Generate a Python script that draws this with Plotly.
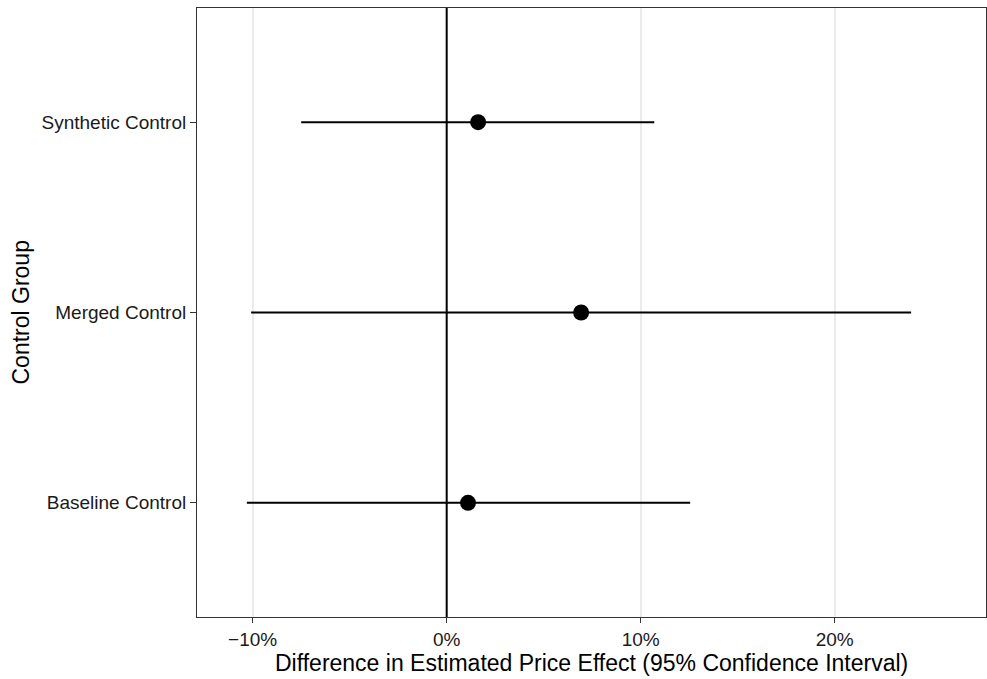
import plotly.graph_objects as go

groups = ["Baseline Control", "Merged Control", "Synthetic Control"]
estimate = [1.10, 6.93, 1.62]
ci_low = [-10.3, -10.08, -7.5]
ci_high = [12.55, 23.94, 10.7]

tick_vals = [-10, 0, 10, 20]
tick_text = ["\u221210%", "0%", "10%", "20%"]

err_plus = [h - e for h, e in zip(ci_high, estimate)]
err_minus = [e - l for e, l in zip(estimate, ci_low)]

fig = go.Figure()
fig.add_trace(go.Scatter(
    x=estimate, y=groups, mode="markers",
    marker=dict(color="black", size=16),
    error_x=dict(type="data", symmetric=False, array=err_plus, arrayminus=err_minus,
                 color="black", thickness=2, width=0),
    showlegend=False,
))

fig.update_layout(
    width=987, height=679,
    margin=dict(l=197, r=1, t=8, b=62),
    plot_bgcolor="white", paper_bgcolor="white",
    font=dict(family="Liberation Sans, Arial, sans-serif", color="black"),
    shapes=[dict(type="line", xref="x", yref="paper", x0=0, x1=0, y0=0, y1=1,
                 line=dict(color="black", width=2), layer="above")],
    annotations=[
        dict(text="Difference in Estimated Price Effect (95% Confidence Interval)",
             xref="paper", yref="paper", x=0.5, y=0, xanchor="center", yanchor="middle",
             yshift=-46, showarrow=False, font=dict(size=23)),
        dict(text="Control Group", xref="paper", yref="paper", x=0, y=0.5,
             xanchor="center", yanchor="middle", xshift=-177, textangle=-90,
             showarrow=False, font=dict(size=23)),
    ],
)
fig.update_xaxes(
    range=[-12.87, 27.8], tickvals=tick_vals, ticktext=tick_text,
    showgrid=True, gridcolor="#EBEBEB", gridwidth=1.5, zeroline=False,
    showline=True, linecolor="#333333", linewidth=1, mirror=True,
    ticks="outside", ticklen=5, tickcolor="#333333", automargin=False,
    tickfont=dict(size=19, color="#1a1a1a"),
)
fig.update_yaxes(
    type="category", categoryorder="array", categoryarray=groups,
    range=[-0.6, 2.6], showgrid=False, zeroline=False,
    showline=True, linecolor="#333333", linewidth=1, mirror=True,
    ticks="outside", ticklen=6, tickcolor="#333333", automargin=False,
    tickfont=dict(size=19, color="#1a1a1a"),
)
fig.write_html("out.html", config={"displayModeBar": False},
               post_script="document.body.style.margin='0';")
